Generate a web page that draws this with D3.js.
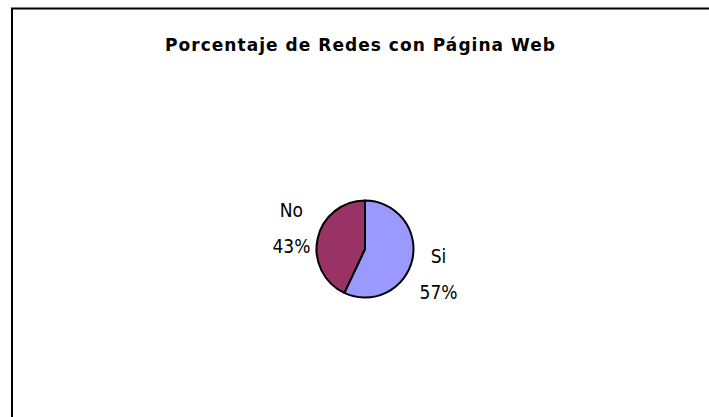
<!DOCTYPE html>
<html>
<head>
<meta charset="utf-8">
<script src="https://cdn.jsdelivr.net/npm/d3@7"></script>
<style>
  body { margin: 0; background: #fff; }
  text { font-family: "DejaVu Sans Condensed", "DejaVu Sans", sans-serif; fill: #000; }
  .title { font-family: "DejaVu Sans", sans-serif; font-weight: bold; font-size: 17px; }
  .lbl { font-size: 19px; }
</style>
</head>
<body>
<div id="chart"></div>
<script>
const WIDTH = 709, HEIGHT = 417;

const categories = ["Si", "No"];
const values = [57, 43];
const colors = ["#9999ff", "#993366"];

const svg = d3.select("#chart").append("svg")
  .attr("width", WIDTH)
  .attr("height", HEIGHT)

// chart area border (runs off the right and bottom edges)
svg.append("rect")
  .attr("x", 12)
  .attr("y", 8.5)
  .attr("width", 720)
  .attr("height", 430)
  .attr("fill", "#fff")
  .attr("stroke", "#000")
  .attr("stroke-width", 2)

svg.append("text")
  .attr("class", "title")
  .attr("x", 360)
  .attr("y", 51)
  .attr("text-anchor", "middle")
  .attr("textLength", 390)
  .attr("lengthAdjust", "spacing")
  .text("Porcentaje de Redes con Página Web")

const cx = 365, cy = 249, R = 48.5;
const g = svg.append("g").attr("transform", `translate(${cx}, ${cy})`)

const pie = d3.pie().sort(null).value(d => d.value)
const arcs = pie(categories.map((c, i) => ({name: c, value: values[i], color: colors[i]})))

const arc = d3.arc().innerRadius(0).outerRadius(R)

g.selectAll("path")
  .data(arcs)
  .join("path")
  .attr("d", arc)
  .attr("fill", d => d.data.color)
  .attr("stroke", "#000")
  .attr("stroke-width", 2)
  .attr("stroke-linejoin", "round")

// labels sit just outside, nudged a little clockwise like excel does
const LABEL_R = 77;
const labelPos = d => {
  const a = (d.startAngle + d.endAngle) / 2 + 0.08;
  return [Math.sin(a) * LABEL_R, -Math.cos(a) * LABEL_R];
}

const total = d3.sum(values)
const lbl = g.selectAll("g.lbl")
  .data(arcs)
  .join("g")
  .attr("transform", d => `translate(${labelPos(d)})`)

lbl.append("text")
  .attr("class", "lbl")
  .attr("text-anchor", "middle")
  .attr("y", -9)
  .text(d => d.data.name)

lbl.append("text")
  .attr("class", "lbl")
  .attr("text-anchor", "middle")
  .attr("y", 27)
  .text(d => `${Math.round(d.data.value / total * 100)}%`)
</script>
</body>
</html>
